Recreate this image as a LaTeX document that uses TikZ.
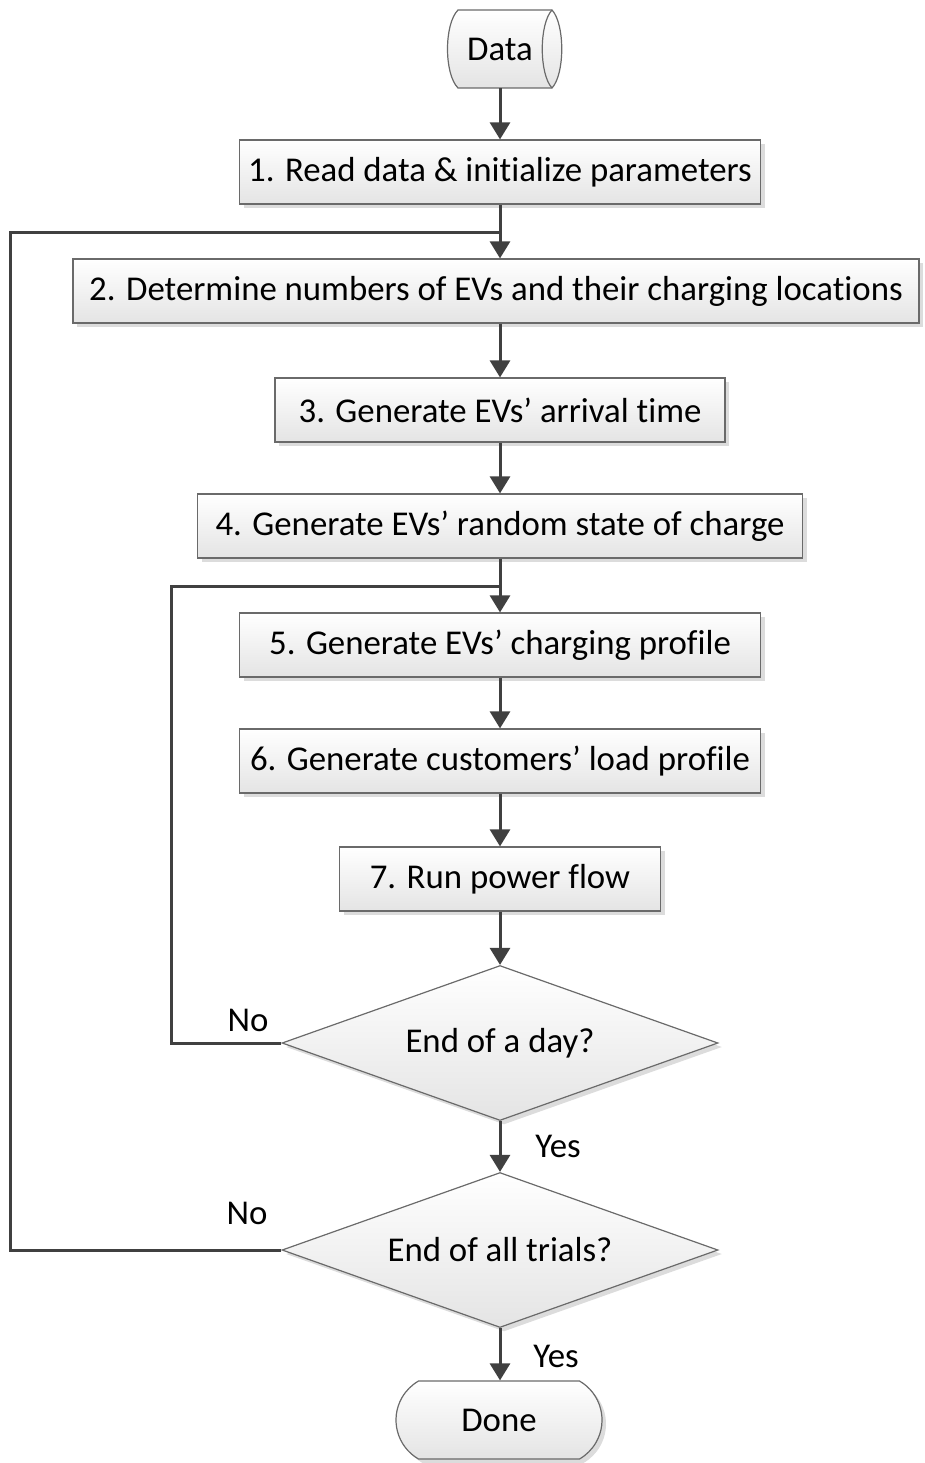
\documentclass[tikz,border=0pt]{standalone}
\usepackage{fontspec}
\setmainfont{Carlito}[Ligatures=NoCommon]
\usetikzlibrary{arrows.meta,shapes.geometric,shapes.misc,shadows}
\definecolor{linec}{HTML}{404040}
\definecolor{boxline}{HTML}{6A6A6A}
\definecolor{fillbot}{HTML}{E4E4E4}
\definecolor{shadowc}{HTML}{DCDCDC}
\begin{document}
\begin{tikzpicture}[x=1pt,y=-1pt,font=\fontsize{34.8}{40}\selectfont,
  shd/.style={drop shadow={shadow xshift=4pt,shadow yshift=-4pt,fill=shadowc,opacity=1}},
  proc/.style={rectangle,draw=boxline,line width=1.2pt,top color=white,bottom color=fillbot,
    minimum height=64pt,inner sep=0pt,shd},
  dec/.style={diamond,draw=boxline,line width=1.2pt,top color=white,bottom color=fillbot,
    minimum width=436pt,minimum height=155pt,inner sep=0pt,shape aspect=2.8,shd},
  term/.style={rounded rectangle,rounded rectangle arc length=120,draw=boxline,line width=1.2pt,
    top color=white,bottom color=fillbot,minimum width=206pt,minimum height=78pt,inner sep=0pt,shd},
  flow/.style={line width=3pt,draw=linec,-{Triangle[length=17pt,width=20pt]}},
  loopl/.style={line width=3pt,draw=linec},
  lbl/.style={inner sep=0pt}]
\useasboundingbox (0,0) rectangle (924,1463);
% Data (stored data) shape
\draw[boxline,line width=1.2pt,top color=white,bottom color=fillbot]
  (458,10) -- (552,10) .. controls (565,24) and (565,74) .. (552,88) -- (458,88)
  .. controls (444,74) and (444,24) .. (458,10) -- cycle;
\draw[boxline,line width=1.2pt] (552,10) .. controls (539,24) and (539,74) .. (552,88);
\node[minimum width=114pt,minimum height=78pt,inner sep=0pt] (data) at (500,49) {Data};
% process boxes
\node[proc,minimum width=521pt] (b1) at (500,172) {1. Read data \& initialize parameters};
\node[proc,minimum width=846pt] (b2) at (496,291) {2. Determine numbers of EVs and their charging locations};
\node[proc,minimum width=450pt] (b3) at (500,410) {3. Generate EVs’ arrival time};
\node[proc,minimum width=605pt] (b4) at (500,526) {4. Generate EVs’ random state of charge};
\node[proc,minimum width=521pt] (b5) at (500,645) {5. Generate EVs’ charging profile};
\node[proc,minimum width=521pt] (b6) at (500,761) {6. Generate customers’ load profile};
\node[proc,minimum width=321pt] (b7) at (500,879) {7. Run power flow};
\node[dec] (d1) at (500,1043) {End of a day?};
\node[dec] (d2) at (500,1250) {End of all trials?};
\node[term] (done) at (499,1420) {Done};
% labels
\node[lbl] (no1) at (248,1020) {No};
\node[lbl] (yes1) at (558,1146) {Yes};
\node[lbl] (no2) at (247,1213) {No};
\node[lbl] (yes2) at (556,1356) {Yes};
% loop coordinates
\coordinate (c1) at (10,233);
\coordinate (c2) at (171,586);
% connectors
\draw[flow] (data.south) -- (b1.north);
\draw[flow] (b1.south) -- (b1.south |- b2.north);
\draw[flow] (b1.south |- b2.south) -- (b3.north);
\draw[flow] (b3.south) -- (b4.north);
\draw[flow] (b4.south) -- (b5.north);
\draw[flow] (b5.south) -- (b6.north);
\draw[flow] (b6.south) -- (b7.north);
\draw[flow] (b7.south) -- (d1.north);
\draw[flow] (d1.south) -- (d2.north);
\draw[flow] (d2.south) -- (d2.south |- done.north);
\draw[loopl] (d1.west) -| (c2) -- (c2 -| b5.north);
\draw[loopl] (d2.west) -| (c1) -- (c1 -| b1.south);
\end{tikzpicture}
\end{document}
